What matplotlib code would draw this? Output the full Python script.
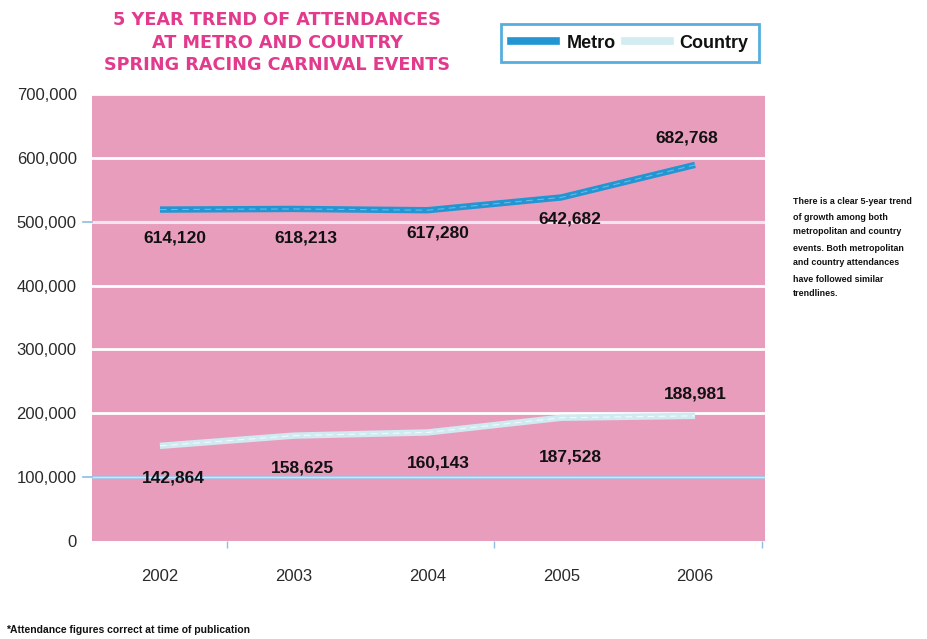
import matplotlib
matplotlib.use("Agg")
import matplotlib.pyplot as plt
from matplotlib import font_manager
from matplotlib.lines import Line2D

plt.rcParams['font.family'] = ['Liberation Sans', 'DejaVu Sans']

# ---------------- data ----------------
years = ["2002", "2003", "2004", "2005", "2006"]
metro_line = [519000, 520000, 518000, 538000, 589000]
country_line = [149000, 165000, 170000, 193000, 196000]
metro_labels = ["614,120", "618,213", "617,280", "642,682", "682,768"]
country_labels = ["142,864", "158,625", "160,143", "187,528", "188,981"]
yticks = [0, 100000, 200000, 300000, 400000, 500000, 600000, 700000]
ytick_labels = ["0", "100,000", "200,000", "300,000", "400,000", "500,000", "600,000", "700,000"]
title_lines = ["5 YEAR TREND OF ATTENDANCES", "AT METRO AND COUNTRY", "SPRING RACING CARNIVAL EVENTS"]
side_lines = ["There is a clear 5-year trend", "of growth among both",
              "metropolitan and country", "events. Both metropolitan",
              "and country attendances", "have followed similar", "trendlines."]
footnote = "*Attendance figures correct at time of publication"

# label offsets in pixels (dx, dy) relative to points
metro_off = [(15, -28), (12, -29), (10, -23), (9, -22), (-8, 27)]
country_off = [(13, -32), (9, -32), (11, -31), (9, -39), (0, 22)]

narrow = 'Liberation Sans Narrow'
avail = {f.name for f in font_manager.fontManager.ttflist}
narrow_fam = [narrow, 'DejaVu Sans'] if narrow in avail else ['Liberation Sans', 'DejaVu Sans']

W, H = 927, 639
fig = plt.figure(figsize=(W / 100, H / 100), dpi=100)
fig.patch.set_facecolor('white')

ax = fig.add_axes([92 / W, (H - 541) / H, (765 - 92) / W, (541 - 94) / H])
ax.set_facecolor('#E99DBD')
for s in ax.spines.values():
    s.set_visible(False)

x = list(range(len(years)))
ax.set_xlim(-0.508, 4.523)
ax.set_ylim(0, 700000)

# gridlines
for v in yticks[1:]:
    if v == 100000:
        ax.axhline(v, color='#A9C9E8', lw=2.2, zorder=1)
        ax.axhline(v, color='white', lw=0.6, zorder=1, alpha=0.6)
    elif v == 500000:
        ax.axhline(v, color='#EFE6F2', lw=2.2, zorder=1)
    else:
        ax.axhline(v, color='white', lw=2.0, zorder=1)

# small blue ticks left of 100k and 500k
for v in (100000, 500000):
    ax.plot([-0.575, -0.508], [v, v], color='#8FBCE3', lw=1.2, clip_on=False, zorder=1)

# lines
ax.plot(x, metro_line, color='#2196D3', lw=4.6, solid_capstyle='butt', zorder=3)
ax.plot(x, metro_line, color='#6BB8E4', lw=0.8, ls=(0, (6, 4)), zorder=4)
ax.plot(x, country_line, color='#CFEAF0', lw=4.6, solid_capstyle='butt', zorder=3)
ax.plot(x, country_line, color='#F2FAFC', lw=0.8, ls=(0, (6, 4)), zorder=4)

# data labels
for i in x:
    ax.annotate(metro_labels[i], (i, metro_line[i]), xytext=metro_off[i],
                textcoords='offset pixels', ha='center', va='center',
                fontsize=12.5, fontweight='bold', color='#111111', zorder=5)
    ax.annotate(country_labels[i], (i, country_line[i]), xytext=country_off[i],
                textcoords='offset pixels', ha='center', va='center',
                fontsize=12.5, fontweight='bold', color='#111111', zorder=5)

# axes ticks
ax.set_yticks(yticks)
ax.set_yticklabels(ytick_labels, fontsize=12, color='#2A2A2A')
ax.set_xticks(x)
ax.set_xticklabels(years, fontsize=12, color='#2A2A2A')
ax.tick_params(axis='y', length=0, pad=11)
ax.tick_params(axis='x', length=0, pad=20)
ax.set_xticks([0.5, 2.5, 4.5], minor=True)
ax.tick_params(axis='x', which='minor', length=5, width=1, color='#8FBCE3', direction='out')

# title
for k, t in enumerate(title_lines):
    fig.text(277 / W, 1 - (20 + 22.5 * k) / H, t, ha='center', va='center',
             fontsize=12.7, fontweight='bold', color='#E23A8C',
             family=['DejaVu Sans'])

# legend
handles = [Line2D([], [], color='#2196D3', lw=5.5), Line2D([], [], color='#D3ECF2', lw=5.5)]
leg = fig.legend(handles, ['Metro', 'Country'], loc='center',
                 bbox_to_anchor=(630 / W, 1 - 43 / H), ncol=2, frameon=True,
                 fancybox=False, edgecolor='#2A9AD6', fontsize=13,
                 handlelength=2.5, handletextpad=0.55, columnspacing=0.5,
                 borderpad=0.6)
leg.get_frame().set_linewidth(2)
for t in leg.get_texts():
    t.set_fontweight('bold')
    t.set_color('#111111')

# side note
ys = [201, 217, 232, 248, 263, 279, 294]
for yy, t in zip(ys, side_lines):
    fig.text(793 / W, 1 - yy / H, t, ha='left', va='center', fontsize=6.4,
             fontweight='bold', color='#111111', family=narrow_fam)

# footnote
fig.text(6 / W, 1 - 630 / H, footnote, ha='left', va='center', fontsize=7.5,
         fontweight='bold', color='#111111', family=narrow_fam)

fig.savefig('out.png', dpi=100, facecolor='white')
